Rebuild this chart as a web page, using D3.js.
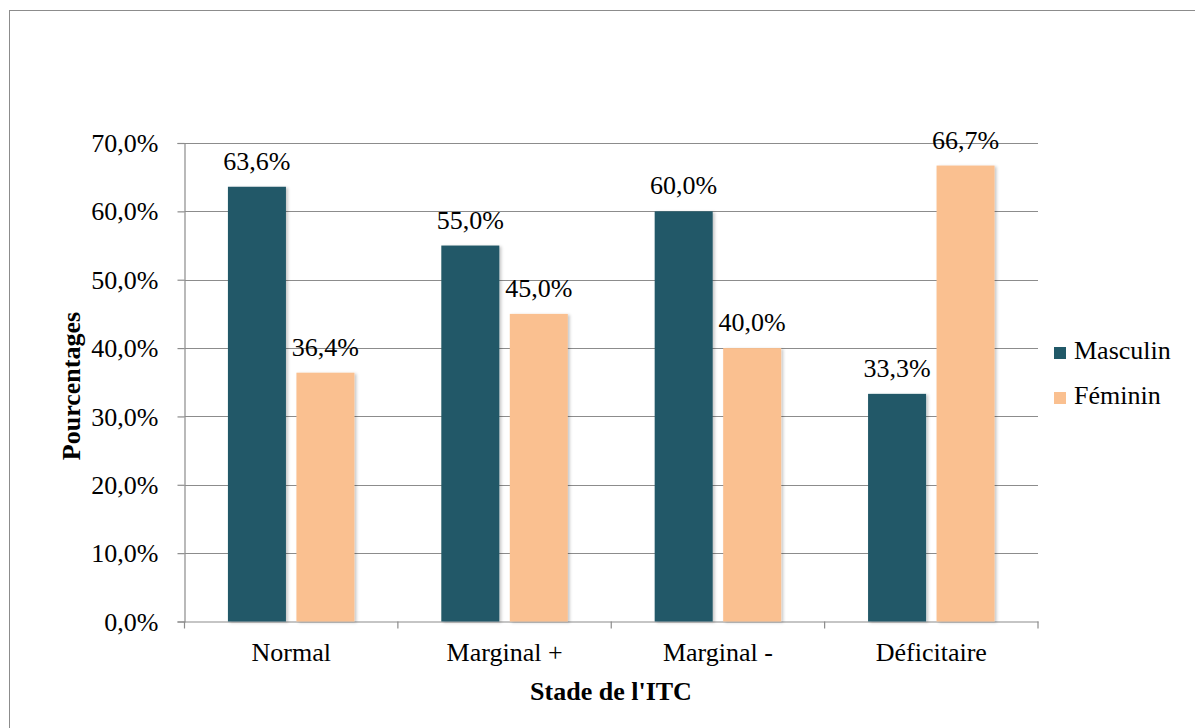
<!DOCTYPE html>
<html>
<head>
<meta charset="utf-8">
<script src="https://cdn.jsdelivr.net/npm/d3@7"></script>
<style>
  body { margin: 0; background: #fff; }
  svg text { font-family: "Liberation Serif", "Times New Roman", serif; fill: #000; }
</style>
</head>
<body>
<div id="chart"></div>
<script>
// chart data
var categories = ["Normal", "Marginal +", "Marginal -", "Déficitaire"];
var series = ["Masculin", "Féminin"];
var masculin = [63.6, 55.0, 60.0, 33.3];
var feminin = [36.4, 45.0, 40.0, 66.7];
var yTicks = [0, 10, 20, 30, 40, 50, 60, 70];
var colors = ["#215968", "#FAC090"];

(function() {
  var W = 1195, H = 728;
  var plot = { left: 184.5, right: 1038, top: 143, bottom: 621.5 };
  var font = "Liberation Serif, Times New Roman, serif";

  var svg = d3.select("#chart").append("svg")
    .attr("width", W)
    .attr("height", H);

  // soft shadow like the office chart
  var defs = svg.append("defs");
  var f = defs.append("filter").attr("id", "shadow")
    .attr("x", "-20%").attr("y", "-20%").attr("width", "140%").attr("height", "140%");
  f.append("feDropShadow")
    .attr("dx", 2).attr("dy", 1).attr("stdDeviation", 1.5)
    .attr("flood-color", "#000").attr("flood-opacity", 0.22);

  // outer border
  svg.append("rect")
    .attr("x", 9.5).attr("y", 10.5)
    .attr("width", 1200).attr("height", 730)
    .attr("fill", "none")
    .attr("stroke", "#8c8c8c")
    .attr("stroke-width", 1);

  var x = d3.scaleBand()
    .domain(categories)
    .range([plot.left, plot.right])
    .paddingInner(0).paddingOuter(0);

  var xs = d3.scaleBand()
    .domain(series)
    .range([0, x.bandwidth()])
    .paddingInner(0.153)
    .paddingOuter(0.634);

  var y = d3.scaleLinear()
    .domain([0, 70])
    .range([plot.bottom, plot.top]);

  // gridlines
  svg.append("g")
    .selectAll("line")
    .data(yTicks.filter(function(d) { return d > 0; }))
    .enter().append("line")
    .attr("x1", plot.left).attr("x2", plot.right)
    .attr("y1", function(d) { return Math.round(y(d)) + 0.5; })
    .attr("y2", function(d) { return Math.round(y(d)) + 0.5; })
    .attr("stroke", "#8c8c8c")
    .attr("stroke-width", 1.2);

  // y axis
  var yAxis = svg.append("g")
    .attr("transform", "translate(" + plot.left + ",0)")
    .attr("font-family", font)
    .call(d3.axisLeft(y)
      .tickValues(yTicks)
      .tickSize(7)
      .tickPadding(19)
      .tickFormat(function(d) { return d.toFixed(1).replace(".", ",") + "%"; }));
  yAxis.attr("font-family", font).attr("font-size", 26);
  yAxis.select(".domain").attr("stroke", "#8c8c8c").attr("stroke-width", 1.2);
  yAxis.selectAll(".tick line").attr("stroke", "#8c8c8c").attr("stroke-width", 1.2);
  yAxis.selectAll(".tick text")
    .attr("dy", "0.33em")
    .attr("fill", "#000");

  // x axis
  var xAxis = svg.append("g")
    .attr("transform", "translate(0," + plot.bottom + ")")
    .call(d3.axisBottom(x).tickSize(0).tickPadding(39));
  xAxis.attr("font-family", font).attr("font-size", 26);
  xAxis.select(".domain").attr("stroke", "#8c8c8c").attr("stroke-width", 1.2);
  xAxis.selectAll(".tick text")
    .attr("dy", 0)
    .attr("fill", "#000");

  // category separator ticks
  svg.append("g")
    .selectAll("line")
    .data(d3.range(categories.length + 1))
    .enter().append("line")
    .attr("x1", function(i) { return plot.left + i * x.step(); })
    .attr("x2", function(i) { return plot.left + i * x.step(); })
    .attr("y1", plot.bottom)
    .attr("y2", plot.bottom + 7)
    .attr("stroke", "#8c8c8c")
    .attr("stroke-width", 1.2);

  // bars
  var values = [masculin, feminin];
  var groups = svg.append("g")
    .selectAll("g")
    .data(series)
    .enter().append("g")
    .attr("fill", function(d, i) { return colors[i]; });

  function rows(s, si) {
    return categories.map(function(c, ci) { return { cat: c, s: s, v: values[si][ci] }; });
  }

  groups.selectAll("rect")
    .data(rows)
    .enter().append("rect")
    .attr("x", function(d) { return x(d.cat) + xs(d.s); })
    .attr("width", xs.bandwidth())
    .attr("y", function(d) { return y(d.v); })
    .attr("height", function(d) { return y(0) - y(d.v); })
    .attr("filter", "url(#shadow)");

  // value labels
  svg.append("g")
    .selectAll("text")
    .data(d3.merge(series.map(rows)))
    .enter().append("text")
    .attr("x", function(d) { return x(d.cat) + xs(d.s) + xs.bandwidth() / 2; })
    .attr("y", function(d) { return y(d.v) - 17; })
    .attr("text-anchor", "middle")
    .style("font-size", "26px")
    .text(function(d) { return d.v.toFixed(1).replace(".", ",") + "%"; });

  // axis titles
  svg.append("text")
    .attr("transform", "translate(80,386) rotate(-90)")
    .attr("text-anchor", "middle")
    .style("font-size", "26px")
    .style("font-weight", "bold")
    .text("Pourcentages");

  svg.append("text")
    .attr("x", 611)
    .attr("y", 700)
    .attr("text-anchor", "middle")
    .style("font-size", "26px")
    .style("font-weight", "bold")
    .text("Stade de l'ITC");

  // legend
  var legend = svg.append("g")
    .selectAll("g")
    .data(series)
    .enter().append("g")
    .attr("transform", function(d, i) { return "translate(1054," + (347 + i * 45) + ")"; });
  legend.append("rect")
    .attr("width", 12).attr("height", 12)
    .attr("fill", function(d, i) { return colors[i]; });
  legend.append("text")
    .attr("x", 20)
    .attr("y", 12)
    .style("font-size", "26px")
    .text(function(d) { return d; });
})();
</script>
</body>
</html>
